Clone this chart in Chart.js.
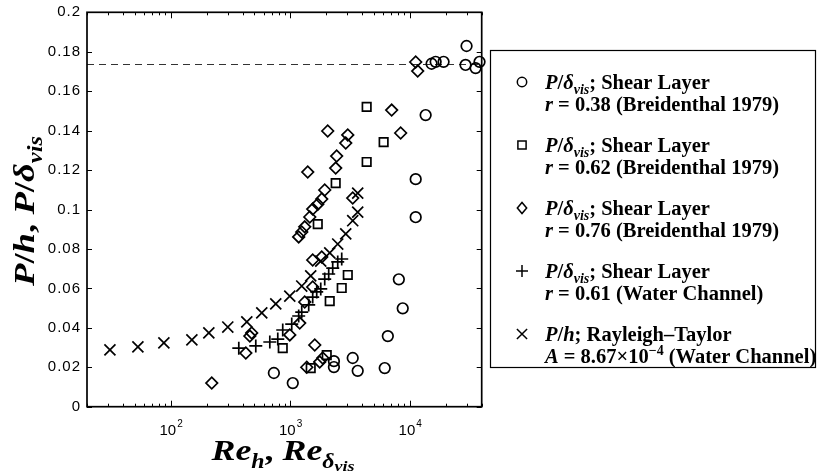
<!DOCTYPE html>
<html><head><meta charset="utf-8">
<script src="https://cdn.jsdelivr.net/npm/chart.js@4/dist/chart.umd.min.js"></script>
<style>html,body{margin:0;padding:0;background:#fff;}canvas{display:block;}</style>
</head><body>
<canvas id="c" width="817" height="472"></canvas>
<script>
// ---------- axis ranges & ticks ----------
const X_MIN = 20, X_MAX = 40000;
const Y_MIN = 0, Y_MAX = 0.2;
const REF_LINE = 0.174;
const yTicks = [0, 0.02, 0.04, 0.06, 0.08, 0.1, 0.12, 0.14, 0.16, 0.18, 0.2];
const yTickLabels = ['0', '0.02', '0.04', '0.06', '0.08', '0.1', '0.12', '0.14', '0.16', '0.18', '0.2'];
const xMajorTicks = [100, 1000, 10000];
const xMajorBase = ['10', '10', '10'];
const xMajorExp = ['2', '3', '4'];

// ---------- data ----------
// r = 0.38 shear layer (Breidenthal 1979), circles
const circRe = [731, 1052, 2323, 2323, 3337, 3673, 6180, 6561, 8110, 8740, 11220, 11220, 13590, 15240, 16480, 19200, 29880, 29310, 35560, 38370];
const circP  = [0.0171, 0.0120, 0.0231, 0.0201, 0.0247, 0.0182, 0.0196, 0.0358, 0.0646, 0.0499, 0.0961, 0.1154, 0.1479, 0.1739, 0.1749, 0.1749, 0.1829, 0.1733, 0.1717, 0.1749];
// r = 0.62 shear layer (Breidenthal 1979), squares
const sqRe = [867, 1486, 2023, 2143, 2700, 3034, 1702, 2404, 4365, 6053, 4365];
const sqP  = [0.0297, 0.0196, 0.0262, 0.0535, 0.0602, 0.0668, 0.0926, 0.1134, 0.1241, 0.1342, 0.1520];
// r = 0.76 shear layer (Breidenthal 1979), diamonds
const diaRe = [221, 426, 460, 477, 993, 1202, 1324, 1544, 1544, 1837, 1377, 1606, 1767, 1873, 1179, 1250, 1324, 1459, 1544, 1702, 1837, 1946, 1403, 2061, 2404, 2449, 2917, 3034, 3337, 7063, 8397, 11220, 11660];
const diaP  = [0.0120, 0.0272, 0.0358, 0.0374, 0.0364, 0.0424, 0.0531, 0.0607, 0.0744, 0.0759, 0.0200, 0.0313, 0.0227, 0.0247, 0.0861, 0.0886, 0.0912, 0.0962, 0.1002, 0.1027, 0.1053, 0.1099, 0.1190, 0.1398, 0.1210, 0.1271, 0.1337, 0.1378, 0.1058, 0.1504, 0.1388, 0.1748, 0.1702];
// r = 0.61 shear layer (water channel), plus
const plusRe = [372, 516, 676, 788, 867, 1031, 1179, 1250, 1430, 1544, 1668, 1803, 1946, 2101, 2270, 2500, 2700];
const plusP  = [0.0297, 0.0308, 0.0328, 0.0343, 0.0389, 0.0419, 0.0460, 0.0480, 0.0516, 0.0556, 0.0582, 0.0597, 0.0647, 0.0673, 0.0703, 0.0734, 0.0749];
// Rayleigh-Taylor (water channel), crosses
const rtRe = [31.1, 53.3, 87.9, 150.7, 208.9, 301, 434, 579, 758, 993, 1250, 1486, 1803, 2143, 2500, 2917, 3337, 3673, 3673];
const rtP  = [0.0288, 0.0303, 0.0324, 0.0339, 0.0374, 0.0404, 0.0430, 0.0476, 0.0521, 0.0561, 0.0612, 0.0663, 0.0738, 0.0780, 0.0825, 0.0876, 0.0943, 0.0987, 0.1083];

// legend text
const legendL1 = [
  [['P','i'],['/','n'],['δ','i'],['vis','s'],['; Shear Layer','n']],
  [['P','i'],['/','n'],['δ','i'],['vis','s'],['; Shear Layer','n']],
  [['P','i'],['/','n'],['δ','i'],['vis','s'],['; Shear Layer','n']],
  [['P','i'],['/','n'],['δ','i'],['vis','s'],['; Shear Layer','n']],
  [['P','i'],['/','n'],['h','i'],['; Rayleigh–Taylor','n']]
];
const legendL2 = [
  [['r','i'],[' = 0.38 (Breidenthal 1979)','n']],
  [['r','i'],[' = 0.62 (Breidenthal 1979)','n']],
  [['r','i'],[' = 0.76 (Breidenthal 1979)','n']],
  [['r','i'],[' = 0.61 (Water Channel)','n']],
  [['A','i'],[' = 8.67×10','n'],['−4','p'],[' (Water Channel)','n']]
];
const legendStyles = ['circle', 'rect', 'rectRot', 'cross', 'crossRot'];
const yLabelParts = [['P','i'],['/','n'],['h','i'],[', ','n'],['P','i'],['/','n'],['δ','i'],['vis','s']];
const xLabelParts = [['Re','i'],['h','s'],[', ','n'],['Re','i'],['δ','s'],['vis','ss']];

const pts = (xs, ys) => xs.map((x, i) => ({x: x, y: ys[i]}));
const SERIF = '"Liberation Serif", "DejaVu Serif", serif';
const SANS = '"Liberation Sans", Arial, sans-serif';

function partFont(kind, size) {
  if (kind === 'i') return 'italic bold ' + size + 'px ' + SERIF;
  if (kind === 's') return 'italic bold ' + Math.round(size * 0.68) + 'px ' + SERIF;
  if (kind === 'ss') return 'italic bold ' + Math.round(size * 0.5) + 'px ' + SERIF;
  if (kind === 'p') return 'bold ' + Math.round(size * 0.68) + 'px ' + SERIF;
  return 'bold ' + size + 'px ' + SERIF;
}
function partDy(kind, size) {
  if (kind === 's') return size * 0.25;
  if (kind === 'ss') return size * 0.38;
  if (kind === 'p') return -size * 0.4;
  return 0;
}
function richWidth(ctx, parts, size) {
  let w = 0;
  for (const p of parts) { ctx.font = partFont(p[1], size); w += ctx.measureText(p[0]).width; }
  return w;
}
// draws rich text; if targetW is given, the text is stretched horizontally to that width and centred on x
function drawRich(ctx, parts, x, y, size, targetW) {
  ctx.save();
  ctx.textAlign = 'left';
  ctx.textBaseline = 'alphabetic';
  let sx = 1, cx = x;
  if (targetW) {
    const w = richWidth(ctx, parts, size);
    sx = targetW / w;
    cx = x - targetW / 2;
  }
  ctx.translate(cx, y);
  ctx.scale(sx, 1);
  let px = 0;
  for (const p of parts) {
    ctx.font = partFont(p[1], size);
    ctx.fillText(p[0], px, partDy(p[1], size));
    px += ctx.measureText(p[0]).width;
  }
  ctx.restore();
}
function marker(ctx, style, x, y, r) {
  ctx.beginPath();
  if (style === 'circle') ctx.arc(x, y, r, 0, Math.PI * 2);
  else if (style === 'rect') { const s = r * Math.SQRT1_2; ctx.rect(x - s, y - s, 2 * s, 2 * s); }
  else if (style === 'rectRot') { ctx.moveTo(x - r * 0.85, y); ctx.lineTo(x, y - r); ctx.lineTo(x + r * 0.85, y); ctx.lineTo(x, y + r); ctx.closePath(); }
  else if (style === 'cross') { ctx.moveTo(x - r, y); ctx.lineTo(x + r, y); ctx.moveTo(x, y - r); ctx.lineTo(x, y + r); }
  else { const d = r * Math.SQRT1_2; ctx.moveTo(x - d, y - d); ctx.lineTo(x + d, y + d); ctx.moveTo(x + d, y - d); ctx.lineTo(x - d, y + d); }
  ctx.stroke();
}

const axesPlugin = {
  id: 'axesPlugin',
  beforeDatasetsDraw(chart) {
    const ctx = chart.ctx, a = chart.chartArea;
    const xs = chart.scales.x, ys = chart.scales.y;
    ctx.save();
    // dashed reference line
    const yr = Math.round(ys.getPixelForValue(REF_LINE)) + 0.5;
    ctx.strokeStyle = '#333'; ctx.lineWidth = 1; ctx.setLineDash([7, 5]);
    ctx.beginPath(); ctx.moveTo(a.left, yr); ctx.lineTo(a.right, yr); ctx.stroke();
    ctx.setLineDash([]);
    // ticks
    ctx.strokeStyle = '#000'; ctx.lineWidth = 1;
    ctx.beginPath();
    for (const v of yTicks) {
      const py = Math.round(ys.getPixelForValue(v)) + 0.5;
      ctx.moveTo(a.left, py); ctx.lineTo(a.left + 5, py);
      ctx.moveTo(a.right, py); ctx.lineTo(a.right - 5, py);
    }
    for (let d = 10; d <= X_MAX; d *= 10) {
      for (let m = 1; m <= 9; m++) {
        const v = d * m;
        if (v < X_MIN || v > X_MAX) continue;
        const px = Math.round(xs.getPixelForValue(v)) + 0.5;
        const len = m === 1 ? 6 : 3;
        ctx.moveTo(px, a.bottom); ctx.lineTo(px, a.bottom - len);
        ctx.moveTo(px, a.top); ctx.lineTo(px, a.top + len);
      }
    }
    ctx.stroke();
    // box
    ctx.lineWidth = 1.7;
    ctx.strokeRect(a.left, a.top, a.right - a.left, a.bottom - a.top);
    ctx.restore();
  },
  afterDraw(chart) {
    const ctx = chart.ctx, a = chart.chartArea;
    const xs = chart.scales.x, ys = chart.scales.y;
    ctx.save();
    ctx.fillStyle = '#000';
    // y tick labels
    ctx.font = '15px ' + SANS; ctx.textAlign = 'right'; ctx.textBaseline = 'middle';
    ctx.letterSpacing = '1px';
    yTicks.forEach((v, i) => ctx.fillText(yTickLabels[i], a.left - 6, ys.getPixelForValue(v)));
    ctx.letterSpacing = '0px';
    // x tick labels
    xMajorTicks.forEach((v, i) => {
      const px = xs.getPixelForValue(v);
      ctx.font = '15px ' + SANS;
      const wb = ctx.measureText(xMajorBase[i]).width;
      ctx.font = '10px ' + SANS;
      const we = ctx.measureText(xMajorExp[i]).width;
      const x0 = px - (wb + we) / 2;
      ctx.textAlign = 'left'; ctx.textBaseline = 'alphabetic';
      ctx.font = '15px ' + SANS; ctx.fillText(xMajorBase[i], x0, 435);
      ctx.font = '10px ' + SANS; ctx.fillText(xMajorExp[i], x0 + wb + 1, 427);
    });
    // axis titles
    drawRich(ctx, xLabelParts, 283, 460, 30, 143);
    ctx.save(); ctx.translate(34, 211); ctx.rotate(-Math.PI / 2);
    drawRich(ctx, yLabelParts, 0, 0, 30, 150);
    ctx.restore();
    // legend box
    ctx.strokeStyle = '#000'; ctx.lineWidth = 1.2;
    ctx.strokeRect(490.5, 50.5, 325, 317);
    const rowY = [82, 145, 208, 271, 334];
    ctx.lineWidth = 1.5;
    rowY.forEach((ry, i) => {
      const st = legendStyles[i];
      const r = st === 'circle' ? 4.7 : st === 'rect' ? 5.8 : st === 'rectRot' ? 5.5 : st === 'cross' ? 6 : 7.2;
      marker(ctx, st, 522, ry, r);
      drawRich(ctx, legendL1[i], 545, ry + 7, 20.5);
      drawRich(ctx, legendL2[i], 545, ry + 29, 20.5);
    });
    ctx.restore();
  }
};

const common = {borderColor: '#000', backgroundColor: 'rgba(0,0,0,0)', borderWidth: 1.7, clip: false, showLine: false};
new Chart(document.getElementById('c'), {
  type: 'scatter',
  data: {
    datasets: [
      Object.assign({label: 'r=0.38', data: pts(circRe, circP), pointStyle: 'circle', pointRadius: 5.3}, common),
      Object.assign({label: 'r=0.62', data: pts(sqRe, sqP), pointStyle: 'rect', pointRadius: 6}, common),
      Object.assign({label: 'r=0.76', data: pts(diaRe, diaP), pointStyle: 'rectRot', pointRadius: 5.8}, common),
      Object.assign({label: 'r=0.61', data: pts(plusRe, plusP), pointStyle: 'cross', pointRadius: 6.5}, common),
      Object.assign({label: 'RT', data: pts(rtRe, rtP), pointStyle: 'crossRot', pointRadius: 7.8}, common)
    ]
  },
  options: {
    responsive: false,
    animation: false,
    events: [],
    layout: {padding: {left: 0, right: 335.3, top: 12.3, bottom: 0}},
    plugins: {legend: {display: false}, tooltip: {enabled: false}},
    scales: {
      x: {type: 'logarithmic', min: X_MIN, max: X_MAX,
          grid: {display: false}, border: {display: false}, ticks: {display: false},
          afterFit: s => { s.height = 65.3; }},
      y: {type: 'linear', min: Y_MIN, max: Y_MAX,
          grid: {display: false}, border: {display: false}, ticks: {display: false},
          afterFit: s => { s.width = 87; }}
    }
  },
  plugins: [axesPlugin]
});
</script>
</body></html>
